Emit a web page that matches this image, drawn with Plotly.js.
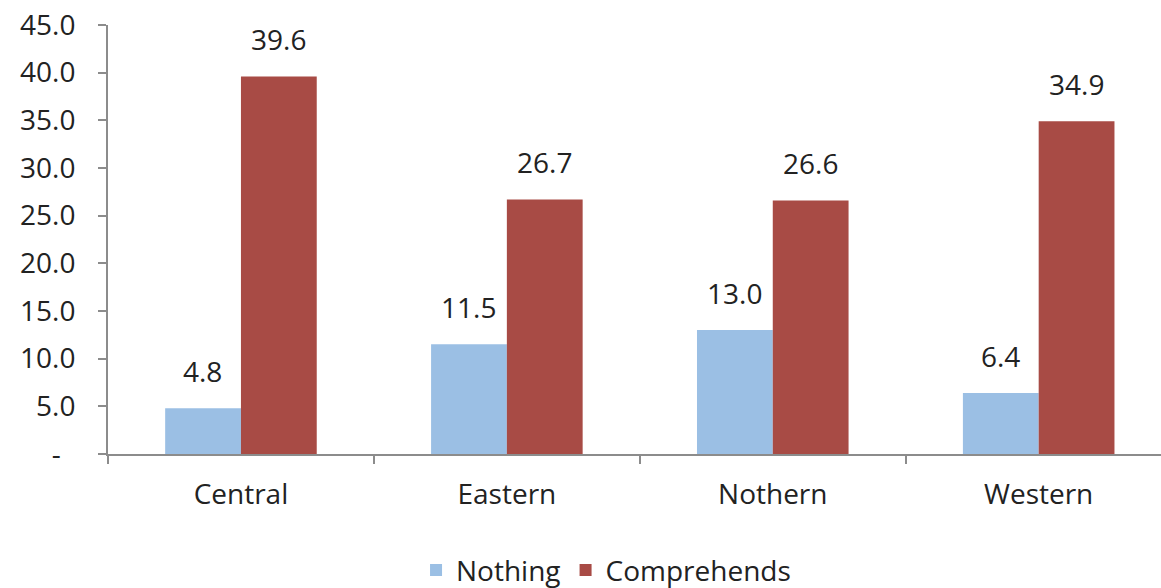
<!DOCTYPE html>
<html>
<head>
<meta charset="utf-8">
<script src="https://cdn.plot.ly/plotly-3.0.1.min.js"></script>
<style>html,body{margin:0;padding:0;background:#fff;}#chart{width:1161px;height:588px;}</style>
</head>
<body>
<div id="chart"></div>
<script>
const categories = ["Central", "Eastern", "Nothern", "Western"];
const nothing = [4.8, 11.5, 13.0, 6.4];
const comprehends = [39.6, 26.7, 26.6, 34.9];
const seriesNames = ["Nothing", "Comprehends"];
const yTickVals = [0, 5, 10, 15, 20, 25, 30, 35, 40, 45];
const yTickText = ["-\u00a0\u00a0", "5.0", "10.0", "15.0", "20.0", "25.0", "30.0", "35.0", "40.0", "45.0"];

const FONT = "Open Sans, Liberation Sans, sans-serif";
const colors = ["#9BBFE4", "#A84B45"];
const FS = 28;

const traces = [
  {type: "bar", name: seriesNames[0], x: categories, y: nothing, marker: {color: colors[0]}, hoverinfo: "none"},
  {type: "bar", name: seriesNames[1], x: categories, y: comprehends, marker: {color: colors[1]}, hoverinfo: "none"}
];

const annotations = [];
[nothing, comprehends].forEach((vals, si) => {
  vals.forEach((v, i) => {
    annotations.push({
      x: categories[i], y: v, xref: "x", yref: "y",
      text: v.toFixed(1), showarrow: false,
      xanchor: "center", yanchor: "bottom",
      xshift: si === 0 ? -38 : 38, yshift: 16,
      font: {family: FONT, size: FS, color: "#222"}
    });
  });
});

const layout = {
  width: 1161, height: 588,
  margin: {l: 108, r: 0, t: 25, b: 134},
  paper_bgcolor: "#fff", plot_bgcolor: "#fff",
  barmode: "group", bargap: 0.43, bargroupgap: 0,
  font: {family: FONT, size: FS, color: "#222"},
  xaxis: {
    range: [-0.5, 3.46],
    showline: true, linecolor: "#8c8c8c", linewidth: 2,
    ticks: "outside", tickson: "boundaries", ticklen: 8, tickcolor: "#8c8c8c", tickwidth: 2,
    showgrid: false, zeroline: false,
    tickfont: {family: FONT, size: FS, color: "#222"},
    ticklabelstandoff: 14
  },
  yaxis: {
    range: [0, 45],
    tickvals: yTickVals, ticktext: yTickText,
    showline: true, linecolor: "#8c8c8c", linewidth: 2,
    ticks: "outside", ticklen: 8, tickcolor: "#8c8c8c", tickwidth: 2,
    showgrid: false, zeroline: false,
    tickfont: {family: FONT, size: FS, color: "#222"},
    ticklabelstandoff: 17
  },
  showlegend: true,
  legend: {
    orientation: "h", xref: "container", yref: "container",
    x: 0.522, xanchor: "center", y: 0.03, yanchor: "middle",
    font: {family: FONT, size: FS, color: "#222"},
    itemwidth: 30, tracegroupgap: 0
  },
  annotations: annotations
};

Plotly.newPlot("chart", traces, layout, {displayModeBar: false, staticPlot: true});
</script>
</body>
</html>
